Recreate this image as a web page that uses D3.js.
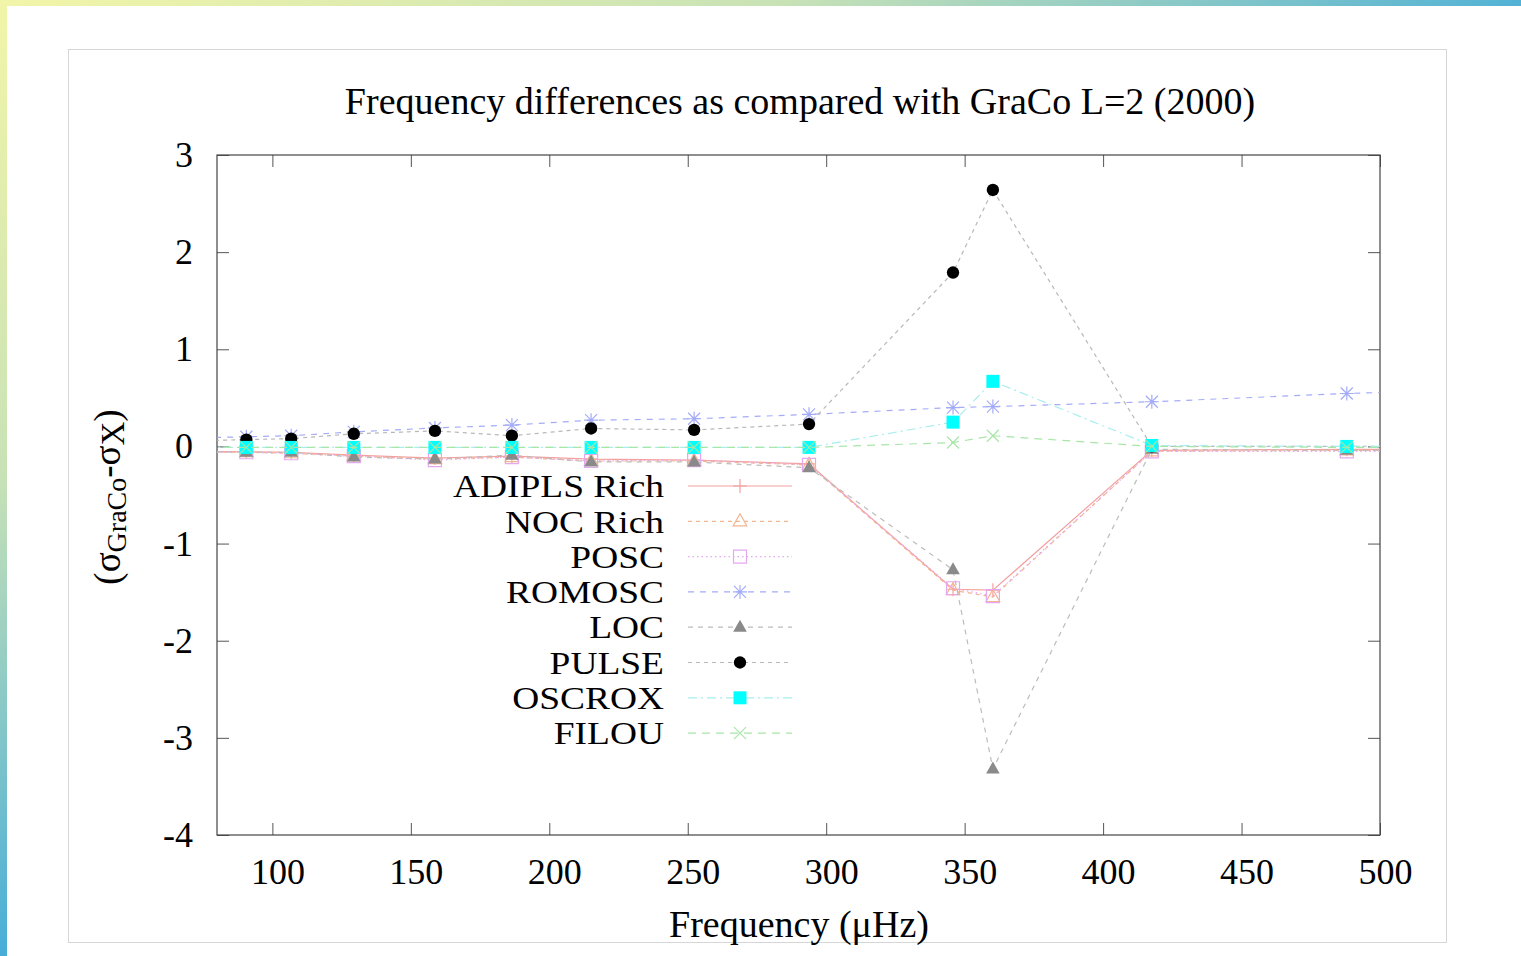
<!DOCTYPE html>
<html>
<head>
<meta charset="utf-8">
<script src="https://cdn.jsdelivr.net/npm/d3@7"></script>
<style>
  body { margin: 0; overflow: hidden; background: #fff; }
  text { font-family: "Liberation Serif", "Times New Roman", serif; fill: #000; }
</style>
</head>
<body>
<div id="chart"></div>
<script>
const W = 1521, H = 956;

// frequencies in µHz (first and last lie outside the visible range, lines run off the edges)
const freqs = [62, 90.6, 106.8, 129.4, 158.7, 186.5, 215.1, 252.3, 293.8, 345.8, 360.2, 417.6, 488.0, 530];

const adiplsRich = [-0.05, -0.055, -0.06, -0.09, -0.12, -0.10, -0.13, -0.14, -0.18, -1.47, -1.48, -0.04, -0.03, -0.03];
const nocRich    = [-0.06, -0.06, -0.07, -0.10, -0.13, -0.11, -0.15, -0.15, -0.19, -1.48, -1.55, -0.05, -0.04, -0.04];
const posc       = [-0.06, -0.06, -0.07, -0.10, -0.14, -0.11, -0.15, -0.14, -0.19, -1.46, -1.54, -0.05, -0.05, -0.05];
const romosc     = [0.08, 0.10, 0.11, 0.15, 0.19, 0.22, 0.27, 0.285, 0.33, 0.40, 0.41, 0.46, 0.545, 0.58];
const loc        = [-0.05, -0.06, -0.06, -0.11, -0.13, -0.09, -0.16, -0.16, -0.22, -1.27, -3.32, -0.03, -0.04, -0.04];
const pulse      = [0.05, 0.07, 0.08, 0.13, 0.16, 0.11, 0.185, 0.17, 0.23, 1.79, 2.64, 0.0, 0.0, 0.0];
const oscrox     = [-0.01, -0.01, -0.01, -0.01, -0.01, -0.01, -0.01, -0.01, -0.01, 0.25, 0.67, 0.01, 0.0, 0.0];
const filou      = [0.0, -0.01, -0.01, -0.01, -0.01, -0.01, -0.01, -0.01, -0.01, 0.04, 0.11, 0.0, -0.01, -0.01];

const xTicks = [100, 150, 200, 250, 300, 350, 400, 450, 500];
const yTicks = [-4, -3, -2, -1, 0, 1, 2, 3];

const series = [
  { name: "ADIPLS Rich", values: adiplsRich, color: "#f4a0a0", dash: null,        marker: "plus" },
  { name: "NOC Rich",    values: nocRich,    color: "#f4b48c", dash: "4,4",       marker: "triOpen" },
  { name: "POSC",        values: posc,       color: "#e4a8f0", dash: "1.5,3",     marker: "sqOpen" },
  { name: "ROMOSC",      values: romosc,     color: "#a4acf8", dash: "6,6",       marker: "star" },
  { name: "LOC",         values: loc,        color: "#bcbcbc", dash: "5,5",       marker: "triFill", fill: "#8a8a8a" },
  { name: "PULSE",       values: pulse,      color: "#b8b8b8", dash: "4,4",       marker: "circle", fill: "#000" },
  { name: "OSCROX",      values: oscrox,     color: "#a8eeee", dash: "9,4,2,4",   marker: "sqFill", fill: "#00ffff" },
  { name: "FILOU",       values: filou,      color: "#a8e6a8", dash: "8,6",       marker: "cross" }
];

const svg = d3.select("#chart").append("svg")
  .attr("width", W)
  .attr("height", H);

// background gradient border
const defs = svg.append("defs");
const grad = defs.append("linearGradient")
  .attr("id", "bg")
  .attr("gradientUnits", "userSpaceOnUse")
  .attr("x1", 0).attr("y1", 0).attr("x2", 600).attr("y2", 1000);
grad.append("stop").attr("offset", 0).attr("stop-color", "#f2f5a8");
grad.append("stop").attr("offset", 0.35).attr("stop-color", "#c8e2b6");
grad.append("stop").attr("offset", 0.7).attr("stop-color", "#48aed8");
grad.append("stop").attr("offset", 1).attr("stop-color", "#44acd8");

svg.append("rect").attr("width", W).attr("height", H).attr("fill", "url(#bg)");
svg.append("rect").attr("x", 7).attr("y", 6).attr("width", W - 7).attr("height", H - 6).attr("fill", "#fff");

// outer frame
svg.append("rect")
  .attr("x", 68.5).attr("y", 49.5)
  .attr("width", 1378).attr("height", 893)
  .attr("fill", "none")
  .attr("stroke", "#d6d6d6")
  .attr("stroke-width", 1);

const plot = { left: 217, right: 1380, top: 155, bottom: 835 };

const x = d3.scaleLinear().domain([80, 500]).range([plot.left, plot.right]);
const y = d3.scaleLinear().domain([-4, 3]).range([plot.bottom, plot.top]);

defs.append("clipPath").attr("id", "clip")
  .append("rect")
  .attr("x", plot.left).attr("y", plot.top)
  .attr("width", plot.right - plot.left).attr("height", plot.bottom - plot.top);

// title
svg.append("text")
  .attr("x", 800).attr("y", 114)
  .attr("text-anchor", "middle")
  .attr("font-size", 38)
  .text("Frequency differences as compared with GraCo L=2 (2000)");

// axes, gnuplot style: ticks inside on all four sides
const tickColor = "#555";

const gx = svg.append("g")
  .attr("transform", `translate(0, ${plot.bottom})`)
  .call(d3.axisBottom(x).tickValues(xTicks).tickSize(-12).tickPadding(23));
gx.selectAll("text").attr("font-size", 36).attr("dx", 5)
  .style("font-family", "'Liberation Serif', serif").attr("fill", "#000");

const gxTop = svg.append("g")
  .attr("transform", `translate(0, ${plot.top})`)
  .call(d3.axisTop(x).tickValues(xTicks).tickSize(-12).tickFormat(""));

const gy = svg.append("g")
  .attr("transform", `translate(${plot.left}, 0)`)
  .call(d3.axisLeft(y).tickValues(yTicks).tickSize(-12).tickPadding(24).tickFormat(d => String(d)));
gy.selectAll("text").attr("font-size", 36)
  .style("font-family", "'Liberation Serif', serif").attr("fill", "#000");

const gyRight = svg.append("g")
  .attr("transform", `translate(${plot.right}, 0)`)
  .call(d3.axisRight(y).tickValues(yTicks).tickSize(-12).tickFormat(""));

[gx, gxTop, gy, gyRight].forEach(g => {
  g.select(".domain").remove();
  g.selectAll("line").attr("stroke", tickColor);
});

// plot border
svg.append("rect")
  .attr("x", plot.left).attr("y", plot.top)
  .attr("width", plot.right - plot.left).attr("height", plot.bottom - plot.top)
  .attr("fill", "none")
  .attr("stroke", "#444")
  .attr("stroke-width", 1.2);

// axis labels
svg.append("text")
  .attr("x", 799).attr("y", 937)
  .attr("text-anchor", "middle")
  .attr("font-size", 38)
  .text("Frequency (\u03bcHz)");

const yl = svg.append("text")
  .attr("transform", "translate(120, 497) rotate(-90)")
  .attr("text-anchor", "middle")
  .attr("font-size", 37);
yl.append("tspan").text("(\u03c3");
yl.append("tspan").attr("font-size", 28).attr("dy", 6).text("GraCo");
yl.append("tspan").attr("dy", -6).text("-\u03c3");
yl.append("tspan").attr("font-size", 33).attr("dy", 4).text("X");
yl.append("tspan").attr("dy", -4).text(")");

// marker shapes
function markerPath(type) {
  switch (type) {
    case "plus":    return "M-7,0H7M0,-7V7";
    case "cross":   return "M-6,-6L6,6M-6,6L6,-6";
    case "star":    return "M-7,0H7M0,-7V7M-6,-6L6,6M-6,6L6,-6";
    case "triOpen":
    case "triFill": return "M0,-7.5L6.8,4.5L-6.8,4.5Z";
    case "sqOpen":
    case "sqFill":  return "M-6.5,-6.5H6.5V6.5H-6.5Z";
    case "circle":  return d3.symbol(d3.symbolCircle, 120)();
  }
}

function drawMarker(sel, s) {
  const filled = s.marker === "triFill" || s.marker === "sqFill" || s.marker === "circle";
  sel.attr("d", markerPath(s.marker))
    .attr("fill", filled ? s.fill : "none")
    .attr("stroke", filled ? "none" : s.color)
    .attr("stroke-width", 1.2);
}

const line = d3.line()
  .x((d, i) => x(freqs[i]))
  .y(d => y(d));

const dataG = svg.append("g").attr("clip-path", "url(#clip)");

series.forEach(s => {
  const g = dataG.append("g");
  g.append("path")
    .attr("d", line(s.values))
    .attr("fill", "none")
    .attr("stroke", s.color)
    .attr("stroke-width", 1.2)
    .attr("stroke-dasharray", s.dash);
  g.selectAll("path.pt")
    .data(s.values)
    .join("path")
    .attr("class", "pt")
    .attr("transform", (d, i) => `translate(${x(freqs[i])}, ${y(d)})`)
    .call(drawMarker, s);
});

// legend (text a bit wide, like the original)
const legend = svg.append("g").attr("transform", "translate(664, 486)");
series.forEach((s, i) => {
  const row = legend.append("g").attr("transform", `translate(0, ${i * 35.3})`);
  row.append("text")
    .attr("transform", "scale(1.17, 1)")
    .attr("x", 0).attr("dy", "0.35em")
    .attr("text-anchor", "end")
    .attr("font-size", 32)
    .text(s.name);
  row.append("line")
    .attr("x1", 24).attr("x2", 128)
    .attr("stroke", s.color)
    .attr("stroke-width", 1.2)
    .attr("stroke-dasharray", s.dash);
  row.append("path")
    .attr("transform", "translate(76, 0)")
    .call(drawMarker, s);
});
</script>
</body>
</html>
